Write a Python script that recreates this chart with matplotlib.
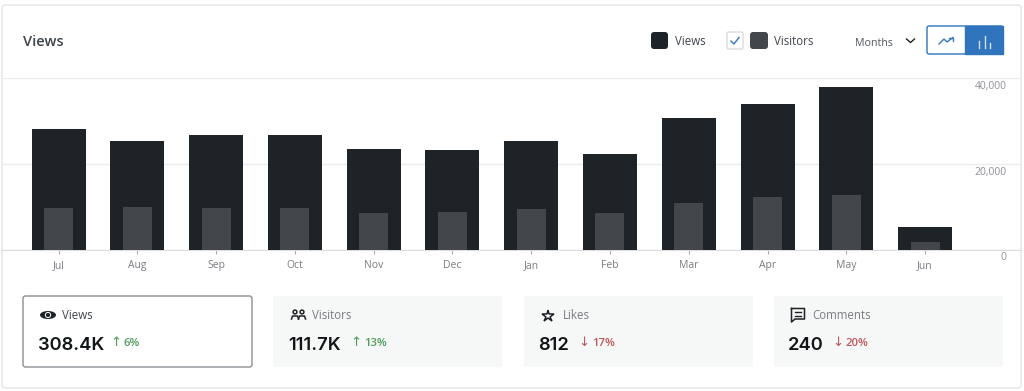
import matplotlib
matplotlib.use('Agg')
import matplotlib.pyplot as plt
from matplotlib.patches import FancyBboxPatch, Rectangle, Circle, Ellipse
from matplotlib.transforms import ScaledTranslation

plt.rcParams['font.family'] = ['Open Sans', 'DejaVu Sans']

months = ['Jul', 'Aug', 'Sep', 'Oct', 'Nov', 'Dec', 'Jan', 'Feb', 'Mar', 'Apr', 'May', 'Jun']
views = [28100, 25300, 26700, 26700, 23450, 23200, 25400, 22300, 30700, 34000, 37800, 5250]
visitors = [9570, 9900, 9570, 9700, 8500, 8750, 9450, 8500, 10850, 12350, 12800, 1750]
y_ticks = [0, 20000, 40000]
y_labels = ['0', '20,000', '40,000']

card_names = ['Views', 'Visitors', 'Likes', 'Comments']
card_values = ['308.4K', '111.7K', '812', '240']
card_changes = ['6%', '13%', '17%', '20%']
card_up = [True, True, False, False]

W, H = 1024, 391
fig = plt.figure(figsize=(W / 100, H / 100), dpi=100, facecolor='white')

# background layer in pixel coords, for the card and the controls
bg = fig.add_axes([0, 0, 1, 1], zorder=0)
bg.set_xlim(0, W)
bg.set_ylim(H, 0)
bg.axis('off')


def rbox(x0, y0, x1, y1, r=2, fc='white', ec='none', lw=1, z=1):
    p = FancyBboxPatch((x0 + r, y0 + r), x1 - x0 - 2 * r, y1 - y0 - 2 * r,
                       boxstyle=f'round,pad={r},rounding_size={r}', fc=fc, ec=ec, lw=lw, zorder=z)
    bg.add_patch(p)


rbox(2, 5, 1021, 388, r=3, ec='#e4e5e6')

# chart
x_left, x_right = 2, 1021
x0, step = 58.5, 78.78
y_zero, y_top = 249.5, 78
ax = fig.add_axes([x_left / W, 1 - y_zero / H, (x_right - x_left) / W, (y_zero - y_top) / H], zorder=1)
ax.patch.set_alpha(0)
pos = list(range(len(months)))
ax.bar(pos, views, width=54 / step, color='#1d2327', zorder=3)
ax.bar(pos, visitors, width=29 / step, color='#43474b', zorder=4)
ax.set_xlim((x_left - x0) / step, (x_right - x0) / step)
ax.set_ylim(0, 40000)
ax.set_xticks(pos)
ax.set_xticklabels(months, fontsize=7.5, color='#787c82')
ax.yaxis.tick_right()
ax.set_yticks(y_ticks)
ax.set_yticklabels(y_labels, fontsize=7.5, color='#8c8f94', ha='right', va='top')
ax.tick_params(axis='x', length=3, width=0.8, color='#a7aaad', pad=4.5)
ax.tick_params(axis='y', length=0, pad=-10.5)
# y labels sit under their gridlines
shift = ScaledTranslation(0, -3 / 100, fig.dpi_scale_trans)
for lab in ax.get_yticklabels():
    lab.set_transform(lab.get_transform() + shift)
ax.grid(axis='y', color='#ebecec', lw=1, zorder=0)
for side in ['top', 'left', 'right']:
    ax.spines[side].set_visible(False)
ax.spines['bottom'].set_color('#dcdcde')

# header
bg.text(23, 41.5, 'Views', fontsize=10.5, fontweight='semibold', color='#3c434a', va='center')
rbox(651, 32, 668, 49, r=3, fc='#1d2327')
bg.text(675, 41.5, 'Views', fontsize=8.3, color='#3c434a', va='center')
rbox(727, 32, 743, 49, r=1.5, ec='#dcdcde')
bg.plot([731, 734, 739], [41, 44, 37.5], color='#3a77b8', lw=1, zorder=2)
rbox(750, 32, 768, 49, r=3, fc='#43474b')
bg.text(774, 41.5, 'Visitors', fontsize=8.3, color='#3c434a', va='center')
bg.text(855, 43, 'Months', fontsize=7.7, color='#50575e', va='center')
bg.plot([906.5, 910.5, 914.5], [39, 42.5, 39], color='#1d2327', lw=1, zorder=2)
rbox(927, 26, 1003, 54, r=2, fc='white', ec='#2f74bd', lw=1)
bg.add_patch(Rectangle((965, 26), 38, 28, fc='#2f74bd', ec='#2f74bd', lw=1, zorder=2))
bg.plot([939, 944, 947, 953], [44, 39, 42, 37.5], color='#3a77b8', lw=1, zorder=3)
bg.plot([949, 953, 953], [37.5, 37.5, 41], color='#3a77b8', lw=1, zorder=3)
for bx, by in [(979, 41), (984.5, 36), (990, 43)]:
    bg.plot([bx, bx], [47.5, by], color='#d5e4f3', lw=1, zorder=3)

# stat cards
card_x = [(23, 252), (273, 502), (524, 753), (774, 1003)]
name_x = [62, 312, 562.5, 812]
value_x = [38, 288, 538, 788]
arrow_x = [116, 356, 583.5, 837.5]
change_x = [124, 364, 592, 846]
for i in range(4):
    a, b = card_x[i]
    if i == 0:
        rbox(a, 296, b, 367, r=2.5, fc='white', ec='#8c8f94', lw=1)
    else:
        rbox(a, 296, b, 367, r=2.5, fc='#f6f7f7')
    bg.text(name_x[i], 315.5, card_names[i], fontsize=8.3,
            color='#3c434a' if i == 0 else '#787c82', va='center', zorder=3)
    bg.text(value_x[i], 345, card_values[i], fontsize=13.2, fontweight='semibold',
            family='Inter', color='#101517', va='center', zorder=3)
    col = '#4f9a5c' if card_up[i] else '#c0575c'
    bg.text(arrow_x[i], 343, '↑' if card_up[i] else '↓', fontsize=9.5, color=col,
            family='DejaVu Sans', ha='center', va='center', zorder=3)
    bg.text(change_x[i], 344, card_changes[i], fontsize=8.2, fontweight='semibold',
            color=col, va='center', zorder=3)

# card icons
ic = '#1d2327'
bg.add_patch(Ellipse((48, 315), 16, 8, fc=ic, ec='none', zorder=3))
bg.add_patch(Circle((48, 315), 2.6, fc=ic, ec='white', lw=0.7, zorder=4))
for cx in [295, 302]:
    bg.add_patch(Circle((cx, 312), 1.9, fc='none', ec=ic, lw=1.1, zorder=3))
    bg.plot([cx - 3.5, cx - 2.5, cx + 2.5, cx + 3.5], [319, 316, 316, 319], color=ic, lw=1.1, zorder=3)
bg.plot([548], [315.5], marker='*', ms=9, mfc='white', mec=ic, mew=1.1, zorder=3)
bg.plot([791.5, 804.5, 804.5, 795, 791.5, 791.5], [308.5, 308.5, 319, 319, 322, 308.5], color=ic, lw=1.1, zorder=3)
bg.plot([795, 801], [312, 312], color=ic, lw=1, zorder=3)
bg.plot([795, 801], [315.5, 315.5], color=ic, lw=1, zorder=3)

fig.savefig('out.png', dpi=100)
